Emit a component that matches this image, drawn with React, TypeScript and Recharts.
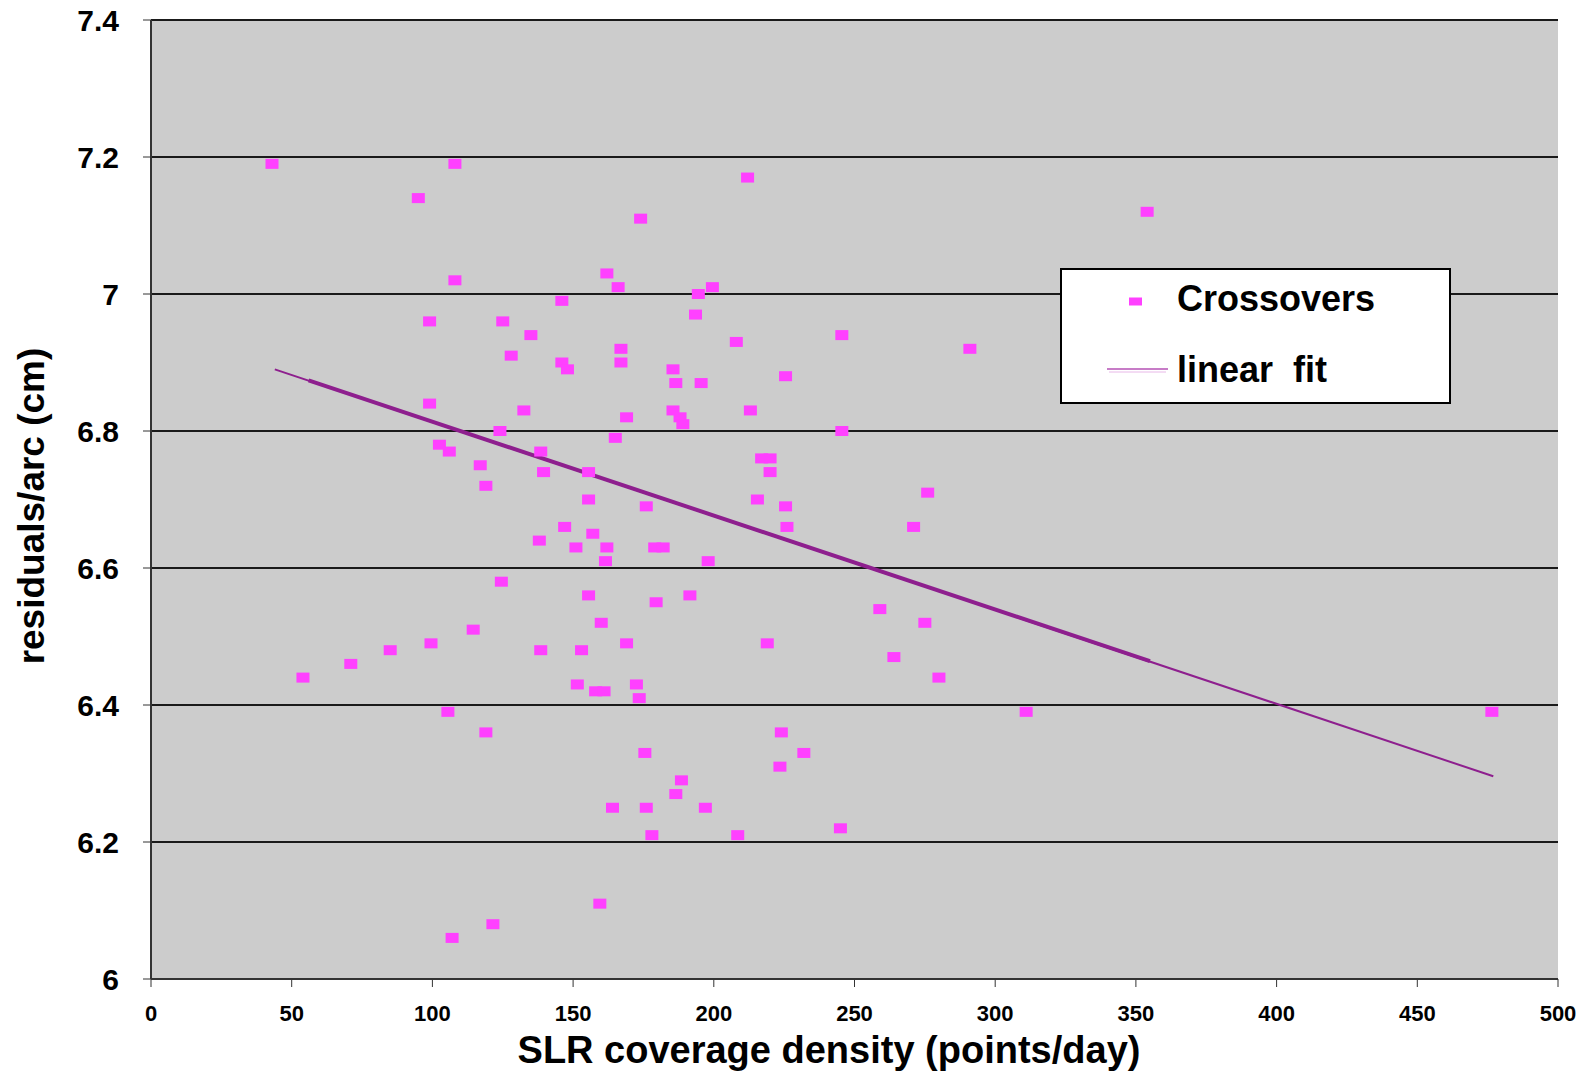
import {
  ScatterChart,
  Scatter,
  XAxis,
  YAxis,
  CartesianGrid,
  Legend,
  Label,
} from 'recharts';

// crossover residuals per arc vs SLR coverage density
const crossX = [
  43, 108, 95, 212, 174, 354, 108, 162, 166, 146, 194.5, 199.5, 99, 125, 135, 128,
  167, 167, 146, 148, 193.5, 208, 245.5, 225.5, 291, 185.5, 186.5, 195.5, 99, 132.5,
  169, 185.5, 188, 189, 213, 124, 165, 245.5, 102.5, 106, 138.5, 117, 139.5, 155.5,
  217, 220, 220, 119, 155.5, 176, 215.5, 225.5, 276, 147, 157, 138, 226, 271,
  151, 162, 179, 182, 161.5, 198, 124.5, 155.5, 191.5, 179.5, 259, 114.5, 160, 275,
  99.5, 169, 219, 85, 138.5, 153, 264, 71, 54, 280, 151.5, 172.5, 158, 161,
  173.5, 105.5, 311, 476.5, 119, 224, 175.5, 232, 223.5, 188.5, 186.5, 164, 176, 197,
  178, 208.5, 245, 159.5, 121.5, 107,
];
const crossY = [
  7.19, 7.19, 7.14, 7.17, 7.11, 7.12, 7.02, 7.03, 7.01, 6.99, 7.0, 7.01, 6.96, 6.96, 6.94, 6.91,
  6.92, 6.9, 6.9, 6.89, 6.97, 6.93, 6.94, 6.88, 6.92, 6.89, 6.87, 6.87, 6.84, 6.83,
  6.82, 6.83, 6.82, 6.81, 6.83, 6.8, 6.79, 6.8, 6.78, 6.77, 6.77, 6.75, 6.74, 6.74,
  6.76, 6.76, 6.74, 6.72, 6.7, 6.69, 6.7, 6.69, 6.71, 6.66, 6.65, 6.64, 6.66, 6.66,
  6.63, 6.63, 6.63, 6.63, 6.61, 6.61, 6.58, 6.56, 6.56, 6.55, 6.54, 6.51, 6.52, 6.52,
  6.49, 6.49, 6.49, 6.48, 6.48, 6.48, 6.47, 6.46, 6.44, 6.44, 6.43, 6.43, 6.42, 6.42,
  6.41, 6.39, 6.39, 6.39, 6.36, 6.36, 6.33, 6.33, 6.31, 6.29, 6.27, 6.25, 6.25, 6.25,
  6.21, 6.21, 6.22, 6.11, 6.08, 6.06,
];

// trend line end points, plus the heavier overdrawn stretch
const fitX = [44, 477];
const fitY = [6.89, 6.296];
const fitThickX = [56, 355];
const fitThickY = [6.874, 6.464];

const xTicks = [0, 50, 100, 150, 200, 250, 300, 350, 400, 450, 500];
const yTicks = [6, 6.2, 6.4, 6.6, 6.8, 7, 7.2, 7.4];

const crossData = crossX.map((x, i) => ({ x, y: crossY[i] }));
const fitData = fitX.map((x, i) => ({ x, y: fitY[i] }));
const fitThickData = fitThickX.map((x, i) => ({ x, y: fitThickY[i] }));

const FONT = 'Arial, "Liberation Sans", sans-serif';
const MAGENTA = '#FF40FF';
const PURPLE = '#8E1F8E';

const Square = (props: { cx?: number; cy?: number }) => {
  const { cx = 0, cy = 0 } = props;
  return <rect x={cx - 6.5} y={cy - 5} width={13} height={10} fill={MAGENTA} />;
};

const NoDot = () => null;

function LegendBox() {
  return (
    <svg width={391} height={136} style={{ display: 'block' }}>
      <rect x={1} y={1} width={389} height={134} fill="#fff" stroke="#000" strokeWidth={2} />
      <rect x={69} y={29.5} width={13} height={8} fill={MAGENTA} />
      <text x={117} y={43} fontFamily={FONT} fontWeight="bold" fontSize={36} fill="#000">
        Crossovers
      </text>
      <line x1={47} y1={101} x2={108} y2={101} stroke="#B450B4" strokeWidth={1.5} />
      <line x1={49} y1={104} x2={106} y2={104} stroke="#E8B8E8" strokeWidth={1} />
      <text x={117} y={114} fontFamily={FONT} fontWeight="bold" fontSize={36} fill="#000" style={{ whiteSpace: 'pre' }}>
        {'linear  fit'}
      </text>
    </svg>
  );
}

export default function App() {
  return (
    <div style={{ position: 'absolute', left: 0, top: 0, width: 1583, height: 1074, background: '#fff' }}>
      <ScatterChart width={1583} height={1074} margin={{ top: 20, right: 25, bottom: 0, left: 0 }}>
        <CartesianGrid fill="#CCCCCC" vertical={false} stroke="#1a1a1a" strokeWidth={1.8} strokeOpacity={1} />
        <XAxis
          type="number"
          dataKey="x"
          domain={[0, 500]}
          ticks={xTicks}
          height={95}
          axisLine={{ stroke: '#333', strokeWidth: 2 }}
          tickLine={{ stroke: '#333' }}
          tickSize={8}
          tickMargin={18}
          tick={{ fontSize: 22, fontWeight: 'bold', fill: '#000', fontFamily: FONT }}
          allowDataOverflow
        >
          <Label
            content={() => (
              <text x={829} y={1063} textAnchor="middle" fontFamily={FONT} fontWeight="bold" fontSize={38} fill="#000">
                SLR coverage density (points/day)
              </text>
            )}
          />
        </XAxis>
        <YAxis
          type="number"
          dataKey="y"
          domain={[6, 7.4]}
          ticks={yTicks}
          width={151}
          axisLine={{ stroke: '#333', strokeWidth: 2 }}
          tickLine={{ stroke: '#333' }}
          tickSize={8}
          tickMargin={24}
          tick={{ fontSize: 30, fontWeight: 'bold', fill: '#000', fontFamily: FONT }}
          allowDataOverflow
        >
          <Label
            content={() => (
              <text
                x={44}
                y={506}
                transform="rotate(-90 44 506)"
                textAnchor="middle"
                fontFamily={FONT}
                fontWeight="bold"
                fontSize={37}
                fill="#000"
              >
                residuals/arc (cm)
              </text>
            )}
          />
        </YAxis>
        <Legend
          layout="vertical"
          align="center"
          verticalAlign="middle"
          content={() => <LegendBox />}
          wrapperStyle={{ position: 'absolute', left: 1060, top: 268, width: 391, height: 136 }}
        />
        <Scatter
          name="linear fit"
          data={fitData}
          line={{ stroke: PURPLE, strokeWidth: 2 }}
          shape={NoDot}
          legendType="line"
          isAnimationActive={false}
        />
        <Scatter
          name="fit overdraw"
          data={fitThickData}
          line={{ stroke: PURPLE, strokeWidth: 4 }}
          shape={NoDot}
          legendType="none"
          isAnimationActive={false}
        />
        <Scatter
          name="Crossovers"
          data={crossData}
          shape={Square}
          legendType="square"
          isAnimationActive={false}
        />
      </ScatterChart>
    </div>
  );
}
